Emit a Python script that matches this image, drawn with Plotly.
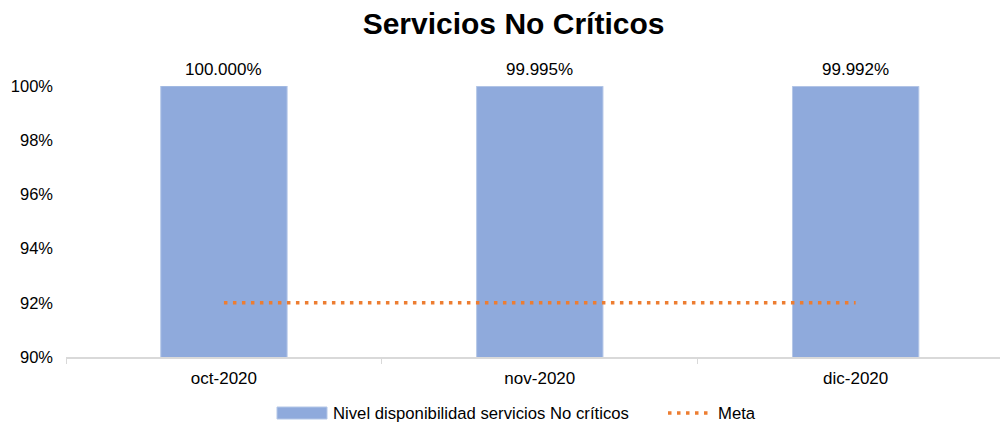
import plotly.graph_objects as go

categories = ["oct-2020", "nov-2020", "dic-2020"]
disponibilidad = [1.00000, 0.99995, 0.99992]
etiquetas = ["100.000%", "99.995%", "99.992%"]
meta = [0.92, 0.92, 0.92]
serie_barras = "Nivel disponibilidad servicios No críticos"
serie_meta = "Meta"

BAR_COLOR = "#8FAADC"
META_COLOR = "#ED7D31"
FONT = "Liberation Sans, Arial, sans-serif"
DOT = "3.5px,5.5px"

fig = go.Figure()
fig.add_trace(go.Bar(
    x=categories, y=disponibilidad, name=serie_barras,
    marker=dict(color=BAR_COLOR, line=dict(color="#B4C7E7", width=1)),
    width=0.4, showlegend=False,
))
fig.add_trace(go.Scatter(
    x=categories, y=meta, name=serie_meta, mode="lines",
    line=dict(color=META_COLOR, width=3.5, dash=DOT), showlegend=False,
))

# data labels above bars
for c, v, t in zip(categories, disponibilidad, etiquetas):
    fig.add_annotation(x=c, y=min(v, 1.0), text=t, showarrow=False,
                       yanchor="bottom", yshift=5,
                       font=dict(size=17, color="#000000", family=FONT))

# manual legend
fig.add_shape(type="rect", xref="paper", yref="paper",
              x0=(277 - 66) / 934, x1=(327 - 66) / 934,
              y0=(357 - 419) / 271, y1=(357 - 407) / 271,
              fillcolor=BAR_COLOR, line=dict(color="#B4C7E7", width=1))
fig.add_annotation(xref="paper", yref="paper", x=(331 - 66) / 934, y=(357 - 413) / 271,
                   text=serie_barras, showarrow=False, xanchor="left", yanchor="middle",
                   font=dict(size=16.7, color="#000000", family=FONT))
fig.add_shape(type="line", xref="paper", yref="paper",
              x0=(668 - 66) / 934, x1=(713 - 66) / 934,
              y0=(357 - 413) / 271, y1=(357 - 413) / 271,
              line=dict(color=META_COLOR, width=3.5, dash=DOT))
fig.add_annotation(xref="paper", yref="paper", x=(716 - 66) / 934, y=(357 - 413) / 271,
                   text=serie_meta, showarrow=False, xanchor="left", yanchor="middle",
                   font=dict(size=16.7, color="#000000", family=FONT))

fig.update_layout(
    width=1003, height=426,
    margin=dict(l=66, r=3, t=86, b=69, autoexpand=False),
    paper_bgcolor="white", plot_bgcolor="white",
    font=dict(family=FONT, size=17, color="#000000"),
    title=dict(text="<b>Servicios No Críticos</b>", x=0.512, xanchor="center",
               y=1 - 23 / 426, yanchor="middle", font=dict(size=30, color="#000000")),
    showlegend=False,
    xaxis=dict(range=[-0.5, 2.457], showline=True, linecolor="#D9D9D9", linewidth=1.5,
               ticks="outside", tickson="boundaries", tickcolor="#D9D9D9", ticklen=5,
               ticklabelstandoff=5,
               showgrid=False, tickfont=dict(size=17), automargin=False),
    yaxis=dict(range=[0.90, 1.00], tickformat=".0%", dtick=0.02, showgrid=False,
               showline=False, ticks="", ticklabelstandoff=12,
               tickfont=dict(size=16.5), zeroline=False, automargin=False),
)

fig.write_html("out.html", config={"displayModeBar": False},
               post_script="document.body.style.margin='0';document.body.style.overflow='hidden';")
